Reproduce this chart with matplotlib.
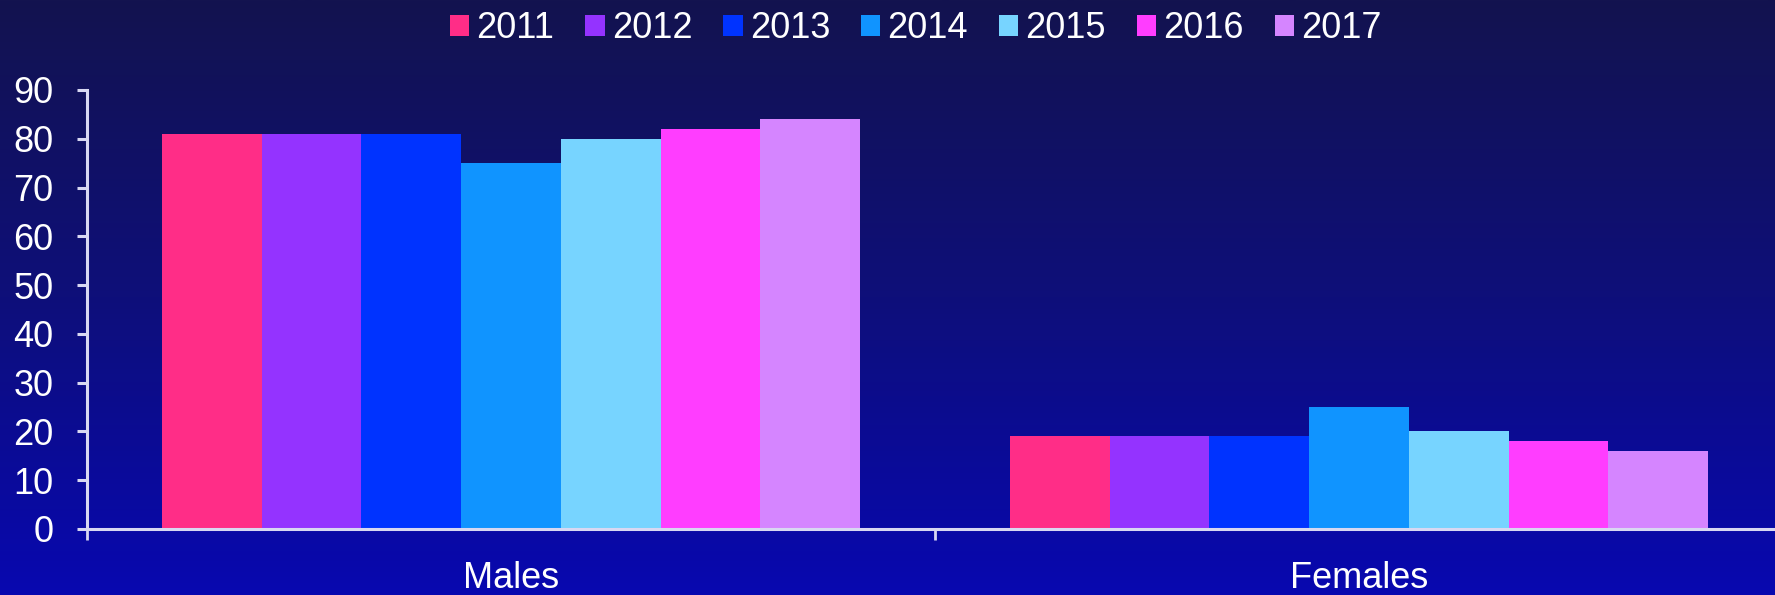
import matplotlib
matplotlib.use("Agg")
import matplotlib.pyplot as plt
import numpy as np
from matplotlib.patches import Patch
from matplotlib.colors import LinearSegmentedColormap

categories = ["Males", "Females"]
years = ["2011", "2012", "2013", "2014", "2015", "2016", "2017"]
values = {
    "2011": [81, 19],
    "2012": [81, 19],
    "2013": [81, 19],
    "2014": [75, 25],
    "2015": [80, 20],
    "2016": [82, 18],
    "2017": [84, 16],
}
colors = ["#ff2d87", "#9433ff", "#0033ff", "#1094ff", "#77d4ff", "#ff3dff", "#d585ff"]
yticks = [0, 10, 20, 30, 40, 50, 60, 70, 80, 90]

plt.rcParams['font.family'] = ['Liberation Sans', 'DejaVu Sans']
W, H = 1775, 595
dpi = 100
fig = plt.figure(figsize=(W / dpi, H / dpi), dpi=dpi)

# gradient background
bg = fig.add_axes([0, 0, 1, 1], zorder=-10)
cmap = LinearSegmentedColormap.from_list("bg", ["#13134f", "#0e0f7a", "#0808b0"])
grad = np.linspace(0, 1, 256).reshape(-1, 1)
bg.imshow(grad, aspect="auto", cmap=cmap, extent=[0, 1, 0, 1], origin="upper")
bg.set_axis_off()

ax = fig.add_axes([87 / W, 66 / H, 1696 / W, 439 / H])
ax.set_facecolor("none")

n = len(years)
bw = 1.0 / (n + 1.5)
x = np.arange(len(categories))
for i, (yr, c) in enumerate(zip(years, colors)):
    offs = (i - (n - 1) / 2) * bw
    ax.bar(x + offs, values[yr], width=bw, color=c, label=yr, zorder=2, linewidth=0)

ax.set_xlim(-0.5, 1.5)
ax.set_ylim(0, 90)
ax.set_yticks(yticks)

axcol = "#d8d8f2"
for s in ["top", "right"]:
    ax.spines[s].set_visible(False)
for s in ["left", "bottom"]:
    ax.spines[s].set_color(axcol)
    ax.spines[s].set_linewidth(2.2)
    ax.spines[s].set_zorder(3)

ax.tick_params(axis="y", colors=axcol, length=7.5, width=2.2, labelsize=26,
               labelcolor="white", pad=16.5)
ax.set_xticks(x)
ax.set_xticklabels(categories)
ax.tick_params(axis="x", which="major", length=0, labelsize=26, labelcolor="white", pad=23)
ax.set_xticks([-0.5, 0.5, 1.5], minor=True)
ax.tick_params(axis="x", which="minor", length=8, width=2, colors=axcol)

handles = [Patch(facecolor=c, edgecolor="none") for c in colors]
fig.legend(handles, years, loc="center", bbox_to_anchor=(916 / W, 1 - 29 / H),
           ncol=n, frameon=False, fontsize=26, labelcolor="white",
           handlelength=0.53, handleheight=0.53, handletextpad=0.2,
           columnspacing=0.86, borderpad=0)

fig.savefig("out.png", dpi=dpi)
